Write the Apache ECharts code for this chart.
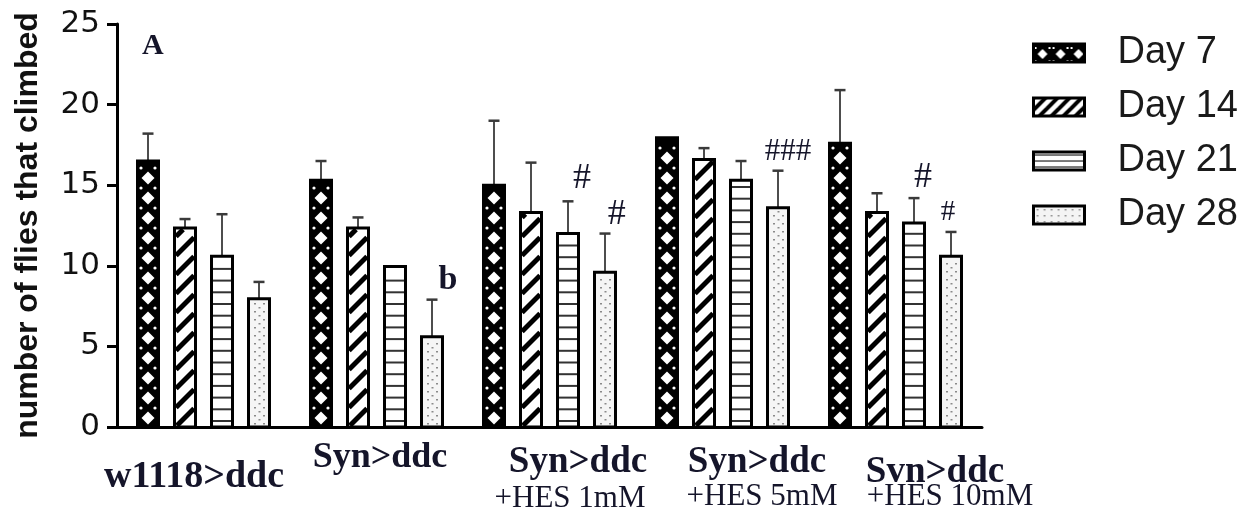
<!DOCTYPE html>
<html>
<head>
<meta charset="utf-8">
<script src="https://cdn.jsdelivr.net/npm/echarts@6/dist/echarts.min.js"></script>
<style>
html,body{margin:0;padding:0;background:#ffffff;}
#chart{width:1255px;height:517px;}
</style>
</head>
<body>
<div id="chart"></div>
<script>
// ---------------- data ----------------
const categoriesLine1 = ['w1118>ddc', 'Syn>ddc', 'Syn>ddc', 'Syn>ddc', 'Svn>ddc'];
const categoriesLine2 = ['', '', '+HES 1mM', '+HES 5mM', '+HES 10mM'];
const seriesNames = ['Day 7', 'Day 14', 'Day 21', 'Day 28'];

const day7 = [16.5, 15.3, 15.0, 17.95, 17.6];
const day7Err = [1.7, 1.2, 4.0, 0, 3.3];
const day14 = [12.35, 12.35, 13.3, 16.6, 13.3];
const day14Err = [0.55, 0.65, 3.1, 0.7, 1.2];
const day21 = [10.6, 9.95, 12.0, 15.3, 12.65];
const day21Err = [2.6, 0, 2.0, 1.2, 1.55];
const day28 = [7.95, 5.6, 9.6, 13.6, 10.6];
const day28Err = [1.05, 2.3, 2.4, 2.3, 1.5];

const yTicks = [0, 5, 10, 15, 20, 25];

// significance marks: category, bar slot (0..3, fractional), y value
const annotations = [
  { text: 'A', cat: 0, bar: 0.13, value: 23.6 },
  { text: 'b', cat: 1, bar: 3.43, value: 9.1 },
  { text: '#', cat: 2, bar: 2.38, value: 15.4 },
  { text: '#', cat: 2, bar: 3.32, value: 13.2 },
  { text: '###', cat: 3, bar: 3.27, value: 17.05 },
  { text: '#', cat: 4, bar: 2.24, value: 15.5 },
  { text: '#', cat: 4, bar: 2.92, value: 13.3 }
];

// ---------------- styles ----------------
const annoStyle = [
  { size: 30, weight: 'bold' },
  { size: 34, weight: 'bold' },
  { size: 36, weight: 'normal' },
  { size: 36, weight: 'normal' },
  { size: 31, weight: 'normal' },
  { size: 36, weight: 'normal' },
  { size: 29, weight: 'normal' }
];
const labelCfg = [
  { l1: { size: 38, pt: 45, dx: -9.5 } },
  { l1: { size: 36, pt: 7, dx: 3.5 } },
  { l1: { size: 37, pt: 15, dx: 28.5 }, l2: { size: 31, pt: 20, dx: 20.5 } },
  { l1: { size: 37, pt: 15, dx: 34.5 }, l2: { size: 31, pt: 17, dx: 39.5 } },
  { l1: { size: 37, pt: 36, dx: 39.5 }, l2: { size: 31, pt: 16, dx: 54.5 } }
];
const BAR_W = 21, SLOT = 37;
const TEXT_DARK = '#15152a';

const means = [day7, day14, day21, day28];
const errs = [day7Err, day14Err, day21Err, day28Err];
const categories = categoriesLine1.map((l, i) => categoriesLine2[i] ? l + ' ' + categoriesLine2[i] : l);

function slotOffset(s) { return (s - 1.5) * SLOT; }

function patternShapes(s, x0, y0, w, h) {
  const out = [];
  const xb = x0 + w, yb = y0 + h, cx = x0 + w / 2;
  if (s === 0) {
    for (let yc = yb - 9; yc - 6 > y0 + 1.5; yc -= 20) {
      out.push({ type: 'polygon', shape: { points: [[cx, yc - 6.5], [cx + 6.5, yc], [cx, yc + 6.5], [cx - 6.5, yc]] }, style: { fill: '#fff' } });
      const ym = yc - 10;
      if (ym - 2 > y0 + 1.5) {
        out.push({ type: 'circle', shape: { cx: x0 + 3.5, cy: ym, r: 1.6 }, style: { fill: '#fff' } });
        out.push({ type: 'circle', shape: { cx: xb - 3.5, cy: ym, r: 1.6 }, style: { fill: '#fff' } });
      }
    }
  } else if (s === 1) {
    const k = 1.0, per = 19;
    const L = x0 + 1.5, R = xb - 1.5, T = y0 + 1.5, B = yb - 1.5;
    for (let c = B + (R - L) * k + 2; c > T; c -= per) {
      let xA = L, yA = c, xB = R, yB = c - (R - L) * k;
      if (yA > B) { xA = L + (c - B) / k; yA = B; }
      if (yB < T) { xB = L + (c - T) / k; yB = T; }
      if (xB - xA > 0.5) {
        out.push({ type: 'line', shape: { x1: xA, y1: yA, x2: xB, y2: yB }, style: { stroke: '#000', lineWidth: 5 } });
      }
    }
  } else if (s === 2) {
    for (let y = yb - 6; y > y0 + 3; y -= 11.7) {
      out.push({ type: 'line', shape: { x1: x0, y1: y, x2: xb, y2: y }, style: { stroke: '#333', lineWidth: 2 } });
    }
  } else {
    let r = 0;
    for (let y = yb - 4; y > y0 + 3; y -= 4, r++) {
      const xs = (r % 2 === 0) ? [x0 + 5.5, x0 + 14.5] : [x0 + 10];
      xs.forEach(x => out.push({ type: 'rect', shape: { x: x, y: y, width: 2, height: 1.5 }, style: { fill: '#8a8a8a' } }));
    }
  }
  return out;
}

const barBg = ['#000', '#fff', '#fff', '#f5f5f5'];

function makeBarSeries(s) {
  return {
    type: 'custom',
    name: seriesNames[s],
    data: categories.map((c, i) => [i, means[s][i], errs[s][i]]),
    encode: { x: 0, y: 1 },
    renderItem: function (params, api) {
      const ci = api.value(0), v = api.value(1), e = api.value(2);
      const base = api.coord([ci, 0]);
      const top = api.coord([ci, v]);
      const cx = base[0] + slotOffset(s);
      const x0 = cx - BAR_W / 2, y0 = top[1], h = base[1] - top[1];
      const children = [];
      if (e > 0) {
        const et = api.coord([ci, v + e])[1];
        children.push({ type: 'line', shape: { x1: cx, y1: y0, x2: cx, y2: et }, style: { stroke: '#4d4d4d', lineWidth: 2 } });
        children.push({ type: 'line', shape: { x1: cx - 5.5, y1: et, x2: cx + 5.5, y2: et }, style: { stroke: '#3a3a3a', lineWidth: 2.5 } });
      }
      children.push({ type: 'rect', shape: { x: x0, y: y0, width: BAR_W, height: h }, style: { fill: barBg[s], stroke: 'none' } });
      patternShapes(s, x0, y0, BAR_W, h).forEach(c => children.push(c));
      children.push({ type: 'rect', shape: { x: x0, y: y0, width: BAR_W, height: h }, style: { fill: 'none', stroke: '#000', lineWidth: 3 } });
      return { type: 'group', children: children };
    },
    z: 2
  };
}

function makeTile(s) {
  const c = document.createElement('canvas');
  const ctx = c.getContext('2d');
  if (s === 0) {
    c.width = 18; c.height = 20;
    ctx.fillStyle = '#000'; ctx.fillRect(0, 0, 18, 20);
    ctx.fillStyle = '#fff';
    ctx.beginPath(); ctx.moveTo(9, 5); ctx.lineTo(14, 10); ctx.lineTo(9, 15); ctx.lineTo(4, 10); ctx.closePath(); ctx.fill();
    [[1, 3], [15, 3], [1, 16], [15, 16]].forEach(p => ctx.fillRect(p[0], p[1], 2, 2));
  } else if (s === 1) {
    c.width = 12; c.height = 12;
    ctx.fillStyle = '#fff'; ctx.fillRect(0, 0, 12, 12);
    ctx.strokeStyle = '#000'; ctx.lineWidth = 4;
    ctx.beginPath(); ctx.moveTo(-2, 14); ctx.lineTo(14, -2); ctx.stroke();
    ctx.beginPath(); ctx.moveTo(-2, 2); ctx.lineTo(2, -2); ctx.stroke();
    ctx.beginPath(); ctx.moveTo(10, 14); ctx.lineTo(14, 10); ctx.stroke();
  } else if (s === 2) {
    c.width = 6; c.height = 6;
    ctx.fillStyle = '#fff'; ctx.fillRect(0, 0, 6, 6);
    ctx.fillStyle = '#777'; ctx.fillRect(0, 2, 6, 2);
  } else {
    c.width = 7; c.height = 6;
    ctx.fillStyle = '#f4f4f4'; ctx.fillRect(0, 0, 7, 6);
    ctx.fillStyle = '#999'; ctx.fillRect(3, 3, 2, 1.5);
  }
  return { image: c, repeat: 'repeat' };
}

const rich = {};
labelCfg.forEach((cfg, i) => {
  ['l1', 'l2'].forEach(k => {
    const c = cfg[k];
    if (!c) return;
    rich[k + '_' + i] = {
      fontFamily: 'Liberation Serif, Times New Roman, serif',
      fontWeight: k === 'l1' ? 'bold' : 'normal',
      fontSize: c.size,
      lineHeight: c.size,
      color: TEXT_DARK,
      padding: [c.pt, c.dx < 0 ? -2 * c.dx : 0, 0, c.dx > 0 ? 2 * c.dx : 0]
    };
  });
});

const chart = echarts.init(document.getElementById('chart'), null, { renderer: 'canvas' });
const option = {
  animation: false,
  backgroundColor: '#ffffff',
  grid: { left: 117, top: 24, width: 865, height: 403, containLabel: false },
  legend: {
    orient: 'vertical',
    left: 1027,
    top: 29,
    itemWidth: 51,
    itemHeight: 18,
    itemGap: 16,
    icon: 'rect',
    selectedMode: false,
    textStyle: { fontFamily: 'Liberation Sans, Arial, sans-serif', fontSize: 38, color: '#1a1a1a', padding: [0, 0, 0, 28] },
    data: seriesNames.map((n, i) => ({ name: n, icon: 'rect', itemStyle: { color: makeTile(i), borderColor: '#000', borderWidth: 3 } }))
  },
  xAxis: {
    type: 'category',
    data: categories,
    axisLine: { lineStyle: { color: '#000', width: 3 } },
    axisTick: { alignWithLabel: true, interval: 0, length: 6, lineStyle: { color: '#000', width: 3 } },
    axisLabel: {
      interval: 0,
      margin: 9,
      formatter: function (v, i) {
        let s = '{l1_' + i + '|' + categoriesLine1[i] + '}';
        if (categoriesLine2[i]) s += '\n{l2_' + i + '|' + categoriesLine2[i] + '}';
        return s;
      },
      rich: rich
    },
    splitLine: { show: false }
  },
  yAxis: {
    type: 'value',
    min: yTicks[0],
    max: yTicks[yTicks.length - 1],
    interval: yTicks[1] - yTicks[0],
    name: 'number of flies that climbed',
    nameLocation: 'middle',
    nameGap: 73,
    nameTextStyle: { fontFamily: 'Liberation Sans, Arial, sans-serif', fontWeight: 'bold', fontSize: 32, color: '#111' },
    axisLine: { show: true, lineStyle: { color: '#000', width: 3 } },
    axisTick: { show: true, length: 10, lineStyle: { color: '#000', width: 3 } },
    axisLabel: { margin: 17, fontFamily: 'DejaVu Sans, sans-serif', fontSize: 31, color: '#111' },
    splitLine: { show: false }
  },
  series: [0, 1, 2, 3].map(makeBarSeries).concat([{
    type: 'custom',
    name: 'marks',
    silent: true,
    data: annotations.map(a => [a.cat, a.bar, a.value]),
    encode: { x: 0, y: 2 },
    renderItem: function (params, api) {
      const p = api.coord([api.value(0), api.value(2)]);
      const x = p[0] + slotOffset(api.value(1));
      const a = annotations[params.dataIndex];
      const st = annoStyle[params.dataIndex];
      return {
        type: 'text',
        x: x, y: p[1],
        style: {
          text: a.text,
          fontFamily: 'Liberation Serif, Times New Roman, serif',
          fontWeight: st.weight,
          fontSize: st.size,
          fill: TEXT_DARK,
          align: 'center',
          verticalAlign: 'middle'
        }
      };
    },
    z: 5
  }])
};
chart.setOption(option);
</script>
</body>
</html>
